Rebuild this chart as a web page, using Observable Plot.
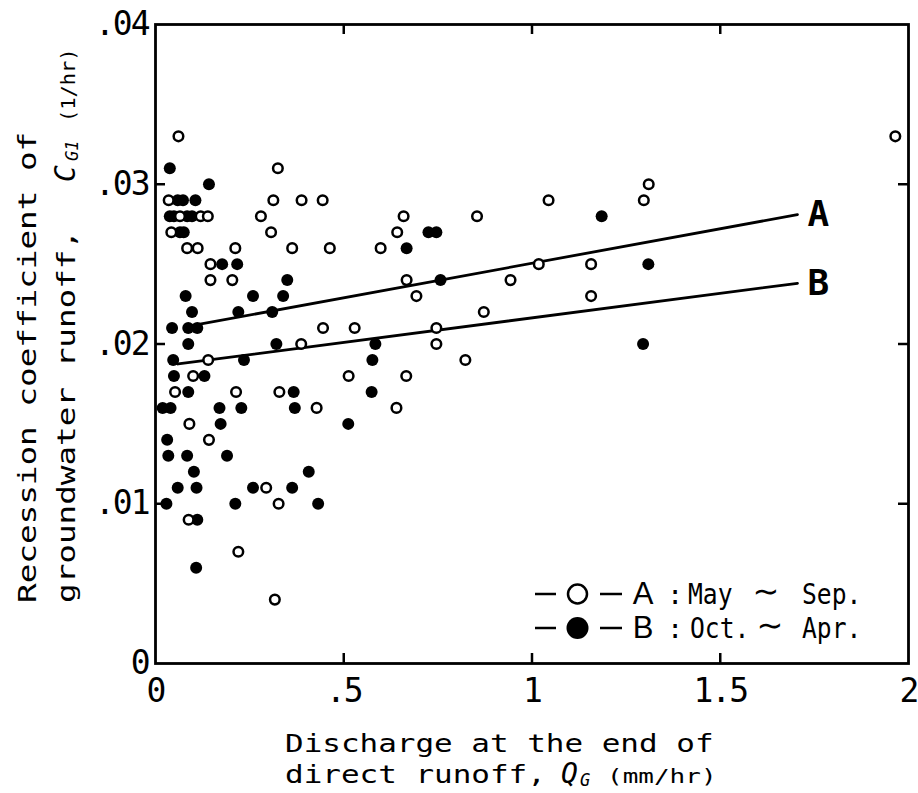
<!DOCTYPE html>
<html><head><meta charset="utf-8">
<script src="https://cdn.jsdelivr.net/npm/d3@7"></script>
<script src="https://cdn.jsdelivr.net/npm/@observablehq/plot@0.6"></script>
<style>
body{margin:0;background:#fff;}
#chart svg{display:block;}
#chart g[aria-label="x-axis tick label"] text,
#chart g[aria-label="y-axis tick label"] text{letter-spacing:-2px;}
</style></head><body><div id="chart"></div>
<script>
// Series A : May ~ Sep (open circles)
const qA = [0.061,0.325,0.035,0.313,0.388,0.444,1.044,0.659,0.854,0.065,0.120,0.139,0.280,0.042,0.307,0.642,0.084,0.112,0.212,0.363,0.463,0.598,0.146,0.146,0.204,1.018,1.157,0.667,0.943,0.693,1.157,0.872,0.445,0.529,0.746,0.387,0.746,0.140,0.823,0.100,0.513,0.666,0.052,0.214,0.329,0.428,0.640,0.090,0.142,0.294,0.327,0.088,0.220,0.317,1.310,1.297,1.965];
const cA = [0.033,0.031,0.029,0.029,0.029,0.029,0.029,0.028,0.028,0.028,0.028,0.028,0.028,0.027,0.027,0.027,0.026,0.026,0.026,0.026,0.026,0.026,0.025,0.024,0.024,0.025,0.025,0.024,0.024,0.023,0.023,0.022,0.021,0.021,0.021,0.020,0.020,0.019,0.019,0.018,0.018,0.018,0.017,0.017,0.017,0.016,0.016,0.015,0.014,0.011,0.010,0.009,0.007,0.004,0.030,0.029,0.033];
// Series B : Oct ~ Apr (filled circles)
const qB = [0.038,0.142,0.059,0.073,0.106,1.185,0.038,0.049,0.084,0.097,0.065,0.075,0.725,0.746,0.177,0.217,0.667,0.350,0.757,1.309,0.080,0.259,0.339,0.097,0.220,0.310,0.044,0.087,0.111,0.087,0.321,0.584,1.295,0.047,0.235,0.576,0.049,0.130,0.087,0.367,0.574,0.019,0.040,0.170,0.228,0.370,0.173,0.512,0.031,0.034,0.084,0.190,0.102,0.407,0.059,0.109,0.259,0.363,0.029,0.212,0.432,0.111,0.108];
const cB = [0.031,0.030,0.029,0.029,0.029,0.028,0.028,0.028,0.028,0.028,0.027,0.027,0.027,0.027,0.025,0.025,0.026,0.024,0.024,0.025,0.023,0.023,0.023,0.022,0.022,0.022,0.021,0.021,0.021,0.020,0.020,0.020,0.020,0.019,0.019,0.019,0.018,0.018,0.017,0.017,0.017,0.016,0.016,0.016,0.016,0.016,0.015,0.015,0.014,0.013,0.013,0.013,0.012,0.012,0.011,0.011,0.011,0.011,0.010,0.010,0.010,0.009,0.006];
// Fitted lines (end points)
const lineQA = [0.085, 1.705];
const lineCA = [0.0211, 0.0281];
const lineQB = [0.060, 1.705];
const lineCB = [0.01875, 0.0238];
const lineNames = ["A", "B"];
// Ticks
const xTicks = [0, 0.5, 1, 1.5, 2];
const xTickLabels = ["0", ".5", "1", "1.5", "2"];
const yTicks = [0, 0.01, 0.02, 0.03, 0.04];
const yTickLabels = ["0", ".01", ".02", ".03", ".04"];
const xInner = [0.5, 1, 1.5];
const yInner = [0.01, 0.02, 0.03];

const W = 918, H = 793, mL = 155, mR = 10, mT = 24, mB = 130;
const plotW = W - mL - mR, plotH = H - mT - mB;
const FONT = "DejaVu Sans Mono";

const ptsA = qA.map((q, i) => ({q, c: cA[i]}));
const ptsB = qB.map((q, i) => ({q, c: cB[i]}));
const lineA = lineQA.map((q, i) => ({q, c: lineCA[i]}));
const lineB = lineQB.map((q, i) => ({q, c: lineCB[i]}));
const ends = [{q: lineQA[1], c: lineCA[1], t: lineNames[0]}, {q: lineQB[1], c: lineCB[1], t: lineNames[1]}];

const plot = Plot.plot({
  width: W, height: H,
  marginLeft: mL, marginRight: mR, marginTop: mT, marginBottom: mB,
  style: {fontFamily: FONT, color: "#000", background: "#fff", overflow: "visible"},
  x: {domain: [0, 2]},
  y: {domain: [0, 0.04]},
  marks: [
    Plot.axisX(xTicks, {tickSize: 0, tickPadding: 15, fontSize: 33, label: null,
      tickFormat: d => xTickLabels[xTicks.indexOf(d)]}),
    Plot.axisY(yTicks, {tickSize: 0, tickPadding: 7, fontSize: 33, label: null,
      tickFormat: d => yTickLabels[yTicks.indexOf(d)]}),
    Plot.tickX(xInner, {x: d => d, insetTop: plotH - 10, strokeWidth: 2.5}),
    Plot.tickX(xInner, {x: d => d, insetBottom: plotH - 10, strokeWidth: 2.5}),
    Plot.tickY(yInner, {y: d => d, insetRight: plotW - 10, strokeWidth: 2.5}),
    Plot.tickY(yInner, {y: d => d, insetLeft: plotW - 10, strokeWidth: 2.5}),
    Plot.frame({stroke: "#000", strokeWidth: 2.8}),
    Plot.line(lineA, {x: "q", y: "c", stroke: "#000", strokeWidth: 2.8}),
    Plot.line(lineB, {x: "q", y: "c", stroke: "#000", strokeWidth: 2.8}),
    Plot.dot(ptsB, {x: "q", y: "c", r: 6, fill: "#000", stroke: "none"}),
    Plot.dot(ptsA, {x: "q", y: "c", r: 4.8, fill: "#fff", stroke: "#000", strokeWidth: 2.5}),
    Plot.text(ends, {x: "q", y: "c", text: "t", dx: 21, fontSize: 36, fontWeight: "bold", fontFamily: FONT, textAnchor: "middle", fill: "#000"})
  ]
});
document.getElementById("chart").appendChild(plot);

const svg = d3.select(plot);
// helper: write a line of text made of segments; each segment has its own offset along the line
function textLine(x, y, rotate, segs) {
  const g = svg.append("g").attr("transform", `translate(${x},${y}) rotate(${rotate})`)
    .attr("font-family", FONT).attr("fill", "#000");
  for (const s of segs) {
    g.append("text")
      .attr("transform", `translate(${s.at},${s.dy || 0}) scale(${s.sx || 1},1)`)
      .attr("font-size", s.size)
      .attr("font-style", s.italic ? "oblique" : "normal")
      .attr("font-family", s.family || FONT)
      .attr("text-anchor", s.anchor || "start")
      .text(s.t);
  }
}
// y axis title (two lines, reading upward)
textLine(36, 603, -90, [{t: "Recession coefficient of", at: 0, size: 24, sx: 1.36}]);
textLine(75, 603, -90, [
  {t: "groundwater runoff,", at: 0, size: 24, sx: 1.36},
  {t: "C", at: 421, size: 28, italic: true, sx: 1.0},
  {t: "G1", at: 442, size: 17, italic: true, dy: 3, sx: 1.0},
  {t: "(1/hr)", at: 481, size: 20, sx: 1.02}
]);
// x axis title
textLine(285, 752, 0, [{t: "Discharge at the end of", at: 0, size: 24, sx: 1.29}]);
textLine(285, 783, 0, [
  {t: "direct runoff,", at: 0, size: 24, sx: 1.29},
  {t: "Q", at: 276, size: 28, italic: true, sx: 1.0},
  {t: "G", at: 295, size: 17, italic: true, dy: 3, sx: 1.0},
  {t: "(mm/hr)", at: 322, size: 20, sx: 1.3}
]);
// legend
const lg = svg.append("g").attr("stroke", "#000");
for (const [yc, filled] of [[594, false], [628, true]]) {
  lg.append("line").attr("x1", 535).attr("x2", 556).attr("y1", yc).attr("y2", yc).attr("stroke-width", 2.5);
  lg.append("line").attr("x1", 600).attr("x2", 622).attr("y1", yc).attr("y2", yc).attr("stroke-width", 2.5);
  lg.append("circle").attr("cx", 577.5).attr("cy", yc).attr("r", filled ? 11 : 9.5)
    .attr("fill", filled ? "#000" : "#fff").attr("stroke-width", filled ? 0 : 2.5);
}
textLine(0, 604, 0, [
  {t: "A", at: 643, size: 31, family: "Liberation Sans", anchor: "middle"},
  {t: ":", at: 675, size: 27, anchor: "middle"},
  {t: "May", at: 688, size: 28, sx: 0.88},
  {t: "∼", at: 766, size: 32, family: "DejaVu Sans", anchor: "middle", dy: -2},
  {t: "Sep.", at: 802, size: 28, sx: 0.88}
]);
textLine(0, 638, 0, [
  {t: "B", at: 643, size: 31, family: "Liberation Sans", anchor: "middle"},
  {t: ":", at: 675, size: 27, anchor: "middle"},
  {t: "Oct.", at: 690, size: 28, sx: 0.88},
  {t: "∼", at: 770, size: 32, family: "DejaVu Sans", anchor: "middle", dy: -2},
  {t: "Apr.", at: 802, size: 28, sx: 0.88}
]);
</script></body></html>
